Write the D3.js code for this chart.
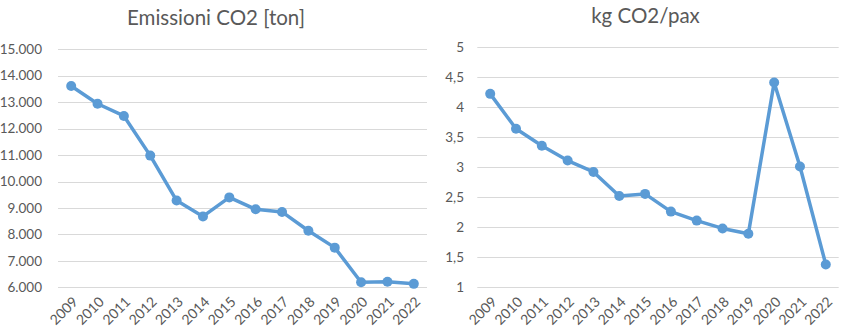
<!DOCTYPE html>
<html>
<head>
<meta charset="utf-8">
<script src="https://cdn.jsdelivr.net/npm/d3@7"></script>
<style>
  html, body { margin: 0; padding: 0; background: #fff; }
  svg { display: block; }
  text { font-family: Lato, "Open Sans", sans-serif; }
</style>
</head>
<body>
<svg id="chart" width="863" height="331"></svg>
<script>
const years = ["2009","2010","2011","2012","2013","2014","2015","2016","2017","2018","2019","2020","2021","2022"];
const emissioni = [13610, 12940, 12480, 10980, 9280, 8680, 9400, 8950, 8850, 8140, 7500, 6190, 6210, 6130];
const kgPax = [4.22, 3.64, 3.355, 3.11, 2.92, 2.52, 2.555, 2.26, 2.11, 1.98, 1.89, 4.41, 3.01, 1.38];
const leftTicks = [6000, 7000, 8000, 9000, 10000, 11000, 12000, 13000, 14000, 15000];
const rightTicks = [1, 1.5, 2, 2.5, 3, 3.5, 4, 4.5, 5];
const titles = ["Emissioni CO2 [ton]", "kg CO2/pax"];

const svg = d3.select("#chart");
const blue = "#5B9BD5";
const grid = "#D9D9D9";
const labelColor = "#595959";

const itLocale = d3.formatLocale({decimal: ",", thousands: ".", grouping: [3], currency: ["", "€"]});

function drawPanel(cfg) {
  const g = svg.append("g");
  const x = d3.scaleBand().domain(years).range([cfg.x0, cfg.x1]).padding(0);
  const y = d3.scaleLinear().domain(cfg.domain).range([cfg.yBottom, cfg.yTop]);

  // gridlines
  g.append("g").selectAll("line").data(cfg.ticks).join("line")
    .attr("x1", cfg.x0).attr("x2", cfg.x1)
    .attr("y1", d => Math.round(y(d)) + 0.5).attr("y2", d => Math.round(y(d)) + 0.5)
    .attr("stroke", grid).attr("stroke-width", 1);

  // y tick labels
  g.append("g").selectAll("text").data(cfg.ticks).join("text")
    .attr("x", cfg.labelX).attr("y", d => y(d))
    .attr("dy", "0.35em")
    .attr("text-anchor", "end")
    .attr("font-size", "13.5px")
    .attr("fill", labelColor)
    .text(d => cfg.fmt(d));

  // x tick labels (rotated)
  g.append("g").selectAll("text").data(years).join("text")
    .attr("transform", d => `translate(${x(d) + x.bandwidth() / 2 + 4},${cfg.yBottom + 12}) rotate(-45)`)
    .attr("text-anchor", "end")
    .attr("dy", "0.35em")
    .attr("font-size", "14px")
    .attr("fill", labelColor)
    .text(d => d);

  const pts = years.map((yr, i) => [x(yr) + x.bandwidth() / 2, y(cfg.values[i])]);

  g.append("path")
    .attr("d", d3.line()(pts))
    .attr("fill", "none")
    .attr("stroke", blue)
    .attr("stroke-width", 3.5)
    .attr("stroke-linejoin", "round")
    .attr("stroke-linecap", "round");

  g.append("g").selectAll("circle").data(pts).join("circle")
    .attr("cx", d => d[0]).attr("cy", d => d[1]).attr("r", 5)
    .attr("fill", blue);

  // title
  g.append("text")
    .attr("x", cfg.titleX).attr("y", cfg.titleY)
    .attr("text-anchor", "middle")
    .attr("font-size", "20.5px")
    .attr("fill", labelColor)
    .text(cfg.title);
}

drawPanel({
  x0: 58, x1: 427, yTop: 49.3, yBottom: 287.3,
  domain: [6000, 15000], ticks: leftTicks, values: emissioni,
  fmt: d => itLocale.format(",.0f")(d),
  labelX: 42, title: titles[0], titleX: 216, titleY: 24.5
});

drawPanel({
  x0: 477.3, x1: 838.7, yTop: 47, yBottom: 287.3,
  domain: [1, 5], ticks: rightTicks, values: kgPax,
  fmt: d => itLocale.format(".2~f")(d),
  labelX: 464, title: titles[1], titleX: 645.5, titleY: 23
});
</script>
</body>
</html>
